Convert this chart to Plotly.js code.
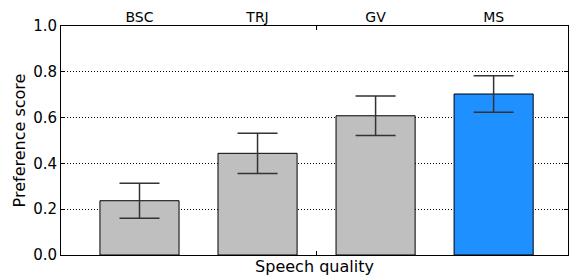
<!DOCTYPE html>
<html><head><meta charset="utf-8">
<script src="https://cdn.plot.ly/plotly-3.0.1.min.js"></script>
<style>html,body{margin:0;padding:0;background:#fff}#chart{width:569px;height:276px}</style>
</head><body><div id="chart"></div>
<script>
const categories = ["BSC", "TRJ", "GV", "MS"];
const scores = [0.237, 0.444, 0.608, 0.703];
const errors = [0.076, 0.088, 0.086, 0.080];
const barColors = ["#bfbfbf", "#bfbfbf", "#bfbfbf", "#1e90ff"];
const yTicks = [0.0, 0.2, 0.4, 0.6, 0.8, 1.0];

const idx = categories.map((c, i) => i);
const midTick = (idx[0] + idx[idx.length - 1]) / 2;
const font = "DejaVu Sans";

const bars = {
  type: "bar", x: idx, y: scores, width: 0.67,
  marker: {color: barColors, line: {color: "#000", width: 1}},
  hoverinfo: "skip", showlegend: false
};
const errs = {
  type: "scatter", mode: "markers", x: idx, y: scores, xaxis: "x2",
  marker: {size: 0.1, color: "rgba(0,0,0,0)"},
  error_y: {type: "data", array: errors, visible: true, color: "#333", thickness: 1.5, width: 20},
  hoverinfo: "skip", showlegend: false
};

const layout = {
  width: 569, height: 276,
  margin: {l: 61, r: 1, t: 26, b: 21},
  paper_bgcolor: "#fff", plot_bgcolor: "#fff",
  font: {family: font, color: "#000"},
  bargap: 0,
  xaxis: {
    range: [-0.665, 3.63], tickvals: [midTick], ticktext: [""],
    ticks: "inside", ticklen: 4, tickcolor: "#000", mirror: "ticks",
    showline: true, linecolor: "#000", linewidth: 1, showgrid: false, zeroline: false,
    title: {text: "Speech quality", font: {size: 16}, standoff: 3}
  },
  xaxis2: {
    overlaying: "x", matches: "x", side: "top", anchor: "y",
    tickmode: "array", tickvals: idx, ticktext: categories, ticks: "",
    showgrid: false, zeroline: false, showline: false, tickfont: {size: 14}
  },
  yaxis: {
    range: [0, 1.0], tickvals: yTicks, ticktext: yTicks.map(v => v.toFixed(1)),
    ticks: "inside", ticklen: 4, tickcolor: "#000", mirror: "ticks",
    showline: true, linecolor: "#000", linewidth: 1,
    showgrid: true, gridcolor: "#000", griddash: "1px,2px", gridwidth: 1, zeroline: false,
    tickfont: {size: 15},
    title: {text: "Preference score", font: {size: 16}, standoff: 3}
  },
  shapes: [{
    type: "line", xref: "x", yref: "paper", x0: midTick, x1: midTick,
    ysizemode: "pixel", yanchor: 1, y0: 0, y1: -4,
    line: {color: "#000", width: 1}
  }]
};
Plotly.newPlot("chart", [bars, errs], layout, {staticPlot: true, displayModeBar: false});
</script></body></html>
